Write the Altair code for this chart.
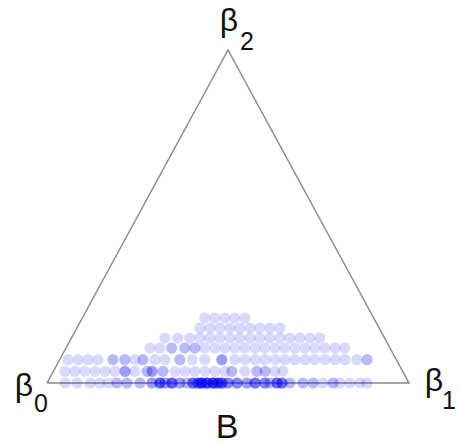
import altair as alt
import pandas as pd

# Ternary draws of (beta0, beta1, beta2); beta0 = 1 - beta1 - beta2.
# Each row shares one beta2 level; counts give how many draws land on a spot.
row_b2 = [0.0, 0.035, 0.07, 0.105, 0.135, 0.165, 0.195]

row_b1 = [
    [0.050, 0.083, 0.119, 0.146, 0.169, 0.193, 0.221, 0.257, 0.290, 0.312,
     0.326, 0.345, 0.367, 0.387, 0.403, 0.417, 0.428, 0.442, 0.459, 0.472,
     0.483, 0.500, 0.525, 0.552, 0.575, 0.602, 0.616, 0.635, 0.649, 0.671,
     0.707, 0.735, 0.762, 0.790, 0.809, 0.837, 0.865, 0.884],
    [0.032, 0.060, 0.087, 0.115, 0.143, 0.170, 0.198, 0.225, 0.259, 0.273,
     0.303, 0.336, 0.364, 0.391, 0.419, 0.446, 0.474, 0.493, 0.529, 0.562,
     0.585, 0.612, 0.634],
    [0.023, 0.051, 0.078, 0.106, 0.147, 0.180, 0.208, 0.230, 0.263, 0.291,
     0.332, 0.366, 0.401, 0.448, 0.484, 0.512, 0.540, 0.567, 0.595, 0.622,
     0.650, 0.678, 0.705, 0.733, 0.761, 0.788, 0.821, 0.849],
    [0.232, 0.259, 0.292, 0.328, 0.356, 0.383, 0.411, 0.439, 0.466, 0.494,
     0.522, 0.549, 0.577, 0.604, 0.632, 0.660, 0.687, 0.715, 0.743, 0.770],
    [0.258, 0.294, 0.327, 0.355, 0.382, 0.410, 0.438, 0.465, 0.493, 0.520,
     0.548, 0.576, 0.603, 0.631, 0.659, 0.686],
    [0.340, 0.367, 0.395, 0.423, 0.450, 0.478, 0.505, 0.533, 0.561],
    [0.338, 0.366, 0.394, 0.421, 0.449],
]

row_n = [
    [1, 1, 1, 1, 1, 2, 2, 2, 3, 6, 3, 6, 3, 2, 5, 6, 8, 8, 8, 6,
     6, 4, 4, 3, 5, 4, 2, 5, 5, 2, 2, 2, 1, 2, 1, 1, 1, 1],
    [1, 1, 1, 1, 1, 1, 3, 1, 2, 3, 2, 1, 1, 1, 1, 1, 1, 2, 1, 2,
     2, 1, 1],
    [1, 1, 1, 1, 2, 2, 1, 2, 1, 1, 2, 1, 1, 3, 1, 1, 1, 1, 1, 1,
     1, 1, 1, 1, 1, 1, 1, 2],
    [1, 1, 2, 2, 2, 1, 1, 1, 1, 1, 1, 1, 1, 1, 1, 1, 1, 1, 1, 1],
    [1] * 16,
    [1] * 9,
    [1] * 5,
]

records = []
for b2, b1s, ns in zip(row_b2, row_b1, row_n):
    for b1, n in zip(b1s, ns):
        for _ in range(n):
            records.append({"beta1": b1, "beta2": b2, "beta0": round(1 - b1 - b2, 3)})
draws = pd.DataFrame(records)
# barycentric -> cartesian (beta0 bottom-left, beta1 bottom-right, beta2 apex)
draws["px"] = draws["beta1"] + draws["beta2"] / 2
draws["py"] = draws["beta2"]

vertex_names = ["β0", "β1", "β2"]
vertex_b1 = [0.0, 1.0, 0.0]
vertex_b2 = [0.0, 0.0, 1.0]
outline = pd.DataFrame({
    "name": vertex_names + [vertex_names[0]],
    "px": [b1 + b2 / 2 for b1, b2 in zip(vertex_b1 + vertex_b1[:1], vertex_b2 + vertex_b2[:1])],
    "py": vertex_b2 + vertex_b2[:1],
    "order": [0, 1, 2, 3],
})

xs = alt.Scale(domain=[0, 1], nice=False, zero=False)
ys = alt.Scale(domain=[0, 1], nice=False, zero=False)
X = alt.X("px:Q", scale=xs, axis=None)
Y = alt.Y("py:Q", scale=ys, axis=None)

triangle = alt.Chart(outline).mark_line(color="#8c8c8c", strokeWidth=1.5).encode(
    x=X, y=Y, order="order:Q"
)

points = alt.Chart(draws).mark_circle(size=125, color="#0000ff", opacity=0.15).encode(
    x=X, y=Y
)

FONT = "Liberation Sans"


def label(text, px, py, dx, dy, size):
    return alt.Chart(pd.DataFrame({"px": [px], "py": [py], "t": [text]})).mark_text(
        font=FONT, fontSize=size, color="#111111", align="center",
        baseline="alphabetic", dx=dx, dy=dy,
    ).encode(x=X, y=Y, text="t:N")


labels = [
    label("β", 0.0, 0.0, -23, 13, 32),
    label("0", 0.0, 0.0, -6, 29, 25),
    label("β", 1.0, 0.0, 25, 8, 32),
    label("1", 1.0, 0.0, 40, 26, 25),
    label("β", 0.5, 1.0, 1, -19, 32),
    label("2", 0.5, 1.0, 19, 0, 25),
    label("B", 0.5, 0.0, -1, 55, 34),
]

chart = alt.layer(triangle, points, *labels).properties(
    width=362,
    height=333,
    autosize=alt.AutoSizeParams(type="none"),
    padding={"left": 47, "top": 50, "right": 50, "bottom": 62},
    background="white",
).configure_view(stroke=None)

chart.save("out.html", embed_options={"renderer": "svg", "actions": False})
